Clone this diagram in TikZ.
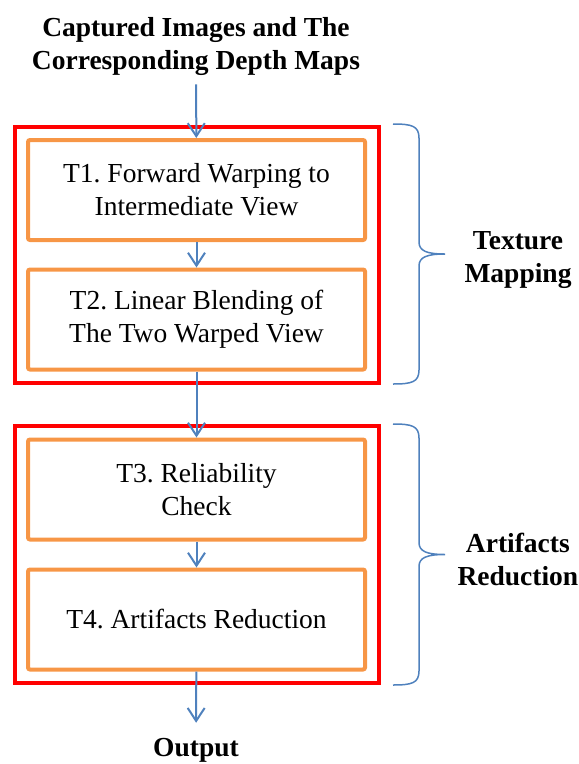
\documentclass[tikz,border=0pt]{standalone}
\usepackage{fontspec}
\setmainfont{Liberation Serif}
\usetikzlibrary{arrows.meta,positioning,fit}
\definecolor{stagered}{HTML}{FF0000}
\definecolor{steporange}{HTML}{F79646}
\definecolor{flowblue}{HTML}{4F81BD}
\newcommand{\bigfont}{\fontsize{27.5}{33}\selectfont\frenchspacing}
% curly brace on the right of a stage: x, top, bottom, name of tip
\newcommand{\sidebrace}[4]{%
  \pgfmathsetmacro{\bmid}{(#2+#3)/2}
  \draw[bracepath] (#1,#2) .. controls (#1+19,#2) and (#1+26,#2+2) .. (#1+26,#2+14)
    -- (#1+26,\bmid-12) .. controls (#1+26,\bmid-3) and (#1+34,\bmid) .. (#1+52,\bmid)
    coordinate (#4)
    .. controls (#1+34,\bmid) and (#1+26,\bmid+3) .. (#1+26,\bmid+12)
    -- (#1+26,#3-14) .. controls (#1+26,#3-2) and (#1+19,#3) .. (#1,#3);}

\begin{document}
\begin{tikzpicture}[
  x=1pt, y=-1pt,
  stepbox/.style={draw=steporange, line width=4pt, rounded corners=2pt,
    minimum width=337pt, minimum height=100pt, align=center, font=\bigfont},
  stagebox/.style={draw=stagered, line width=4pt, inner sep=11.5pt},
  heading/.style={font=\bigfont\bfseries, align=center},
  flow/.style={-{Straight Barb[length=13pt,width=17pt]}, flowblue, line width=2pt},
  bracepath/.style={flowblue, line width=1.5pt},
]
\useasboundingbox (0,0) rectangle (579,764);

% Input and output
\node[heading, inner sep=9pt] (input) at (196,46) {Captured Images and The\\Corresponding Depth Maps};
\node[heading, inner sep=15pt] (output) at (196,750) {Output};

% Steps
\node[stepbox] (t1) at (196.5,190) {T1. Forward Warping to\\Intermediate View};
\node[stepbox] (t2) at (196.5,319.5) {T2. Linear Blending of\\The Two Warped View};
\node[stepbox] (t3) at (196.5,489.5) {T3. Reliability\\Check};
\node[stepbox] (t4) at (196.5,619.5) {T4. Artifacts Reduction};

% Stages
\node[stagebox, fit=(t1)(t2)] (texture) {};
\node[stagebox, fit=(t3)(t4)] (artifacts) {};

% Flow
\draw[flow] (input) -- (t1);
\draw[flow] (t1) -- (t2);
\draw[flow] (t2) -- (t3);
\draw[flow] (t3) -- (t4);
\draw[flow] (t4) -- (output);

% Braces and labels
\sidebrace{393}{124}{384}{texturetip}
\sidebrace{393}{424}{685}{artifactstip}
\node[heading, right=16pt of texturetip, yshift=-6pt] (texturelabel) {Texture\\Mapping};
\node[heading, right=9pt of artifactstip, yshift=-5pt] (artifactslabel) {Artifacts\\Reduction};

\end{tikzpicture}
\end{document}
